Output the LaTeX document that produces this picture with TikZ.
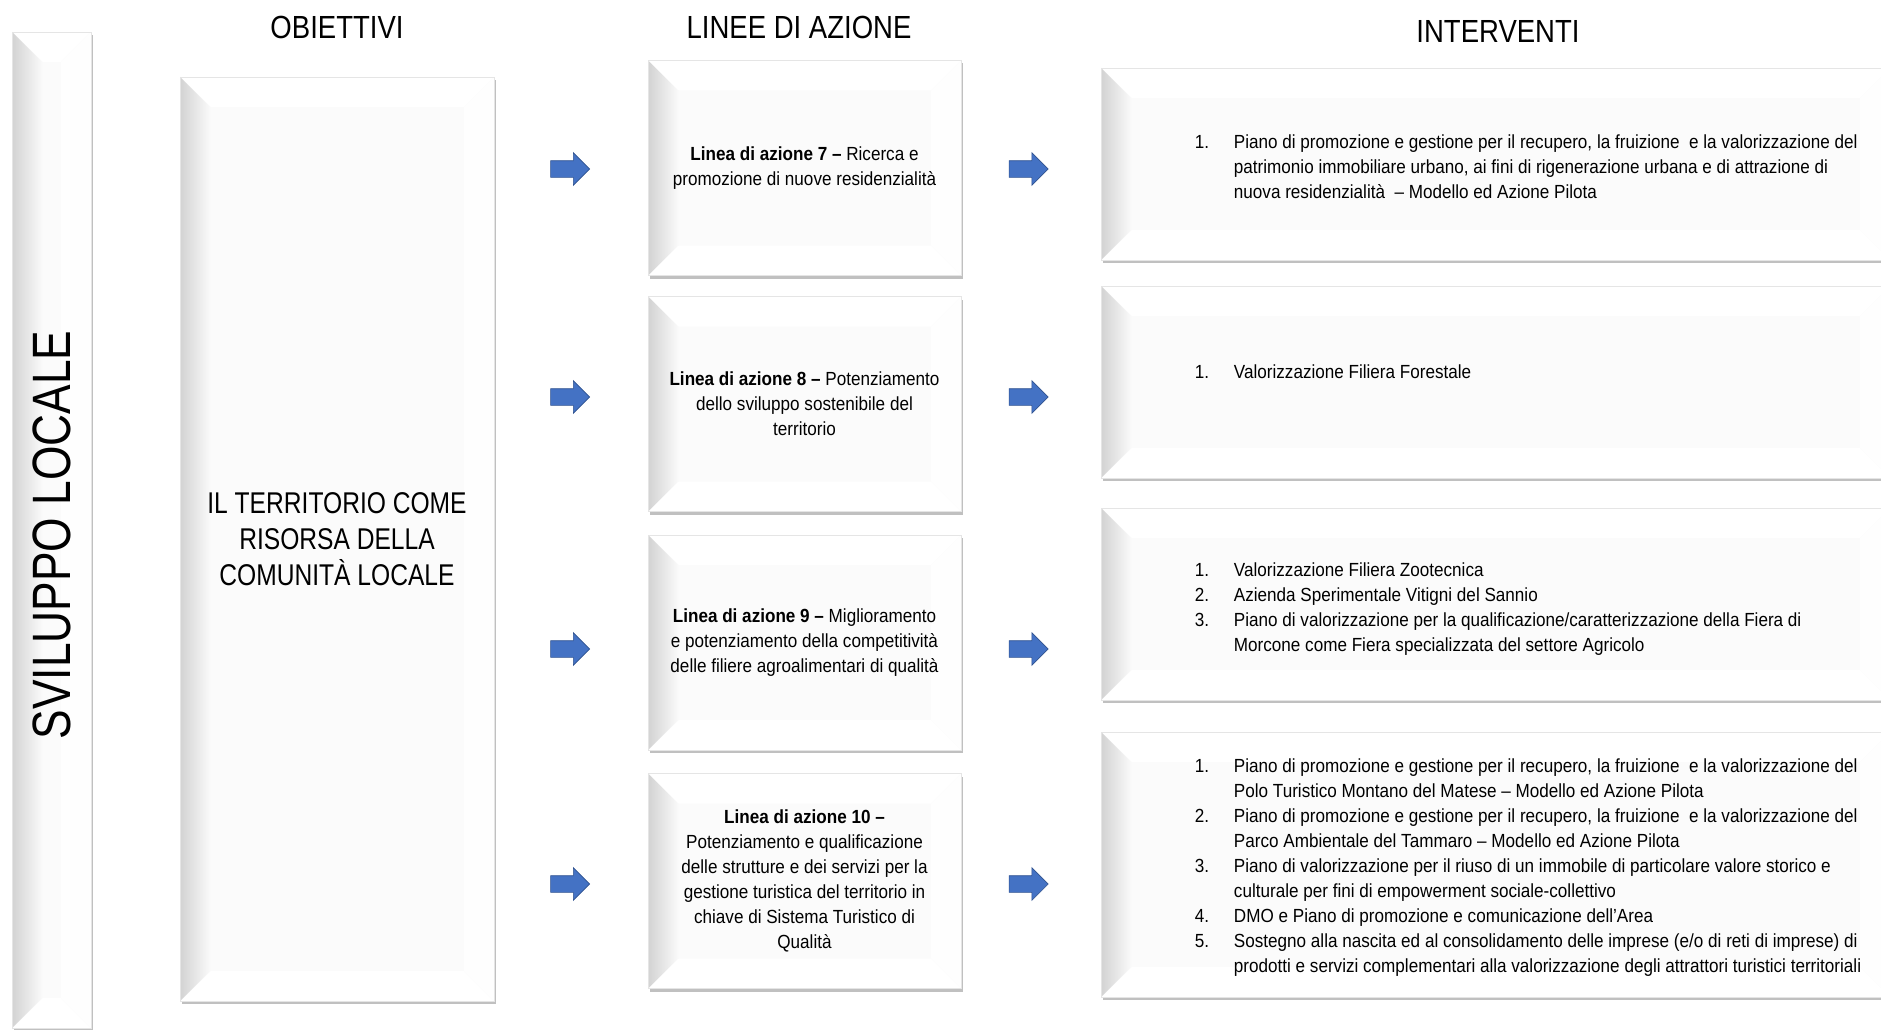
\documentclass[tikz,border=0pt]{standalone}
\usepackage{fontspec}
\setmainfont{Liberation Sans}[FakeStretch=0.9]
\newfontfamily\stretto{Liberation Sans}[FakeStretch=0.82]
\newfontfamily\titoli{Liberation Sans}[FakeStretch=0.86]
\usetikzlibrary{shapes.arrows,shadows,calc,positioning}

\definecolor{blufreccia}{HTML}{4472C4}
\definecolor{bordoblu}{HTML}{2F528F}
\def\smusso{30pt}

\begin{document}
\begin{tikzpicture}[x=1pt,y=-1pt]
        \tikzstyle{rilievo}=[fill=gray!3,draw=gray!20,line width=0.5pt,inner sep=0pt,
            drop shadow={shadow xshift=1.5pt,shadow yshift=-3pt,opacity=0.45,fill=black!55},
            path picture={
                \coordinate (pp-nw) at (path picture bounding box.north west);
                \coordinate (pp-ne) at (path picture bounding box.north east);
                \coordinate (pp-sw) at (path picture bounding box.south west);
                \coordinate (pp-se) at (path picture bounding box.south east);
                \fill[white] (pp-nw) -- (pp-ne) -- ([xshift=-\smusso,yshift=-\smusso]pp-ne) -- ([xshift=\smusso,yshift=-\smusso]pp-nw) -- cycle;
                \fill[white] (pp-sw) -- (pp-se) -- ([xshift=-\smusso,yshift=\smusso]pp-se) -- ([xshift=\smusso,yshift=\smusso]pp-sw) -- cycle;
                \fill[gray!1] (pp-ne) -- (pp-se) -- ([xshift=-\smusso,yshift=\smusso]pp-se) -- ([xshift=-\smusso,yshift=-\smusso]pp-ne) -- cycle;
                \fill[left color=gray!35,right color=gray!4] (pp-nw) -- (pp-sw) -- ([xshift=\smusso,yshift=\smusso]pp-sw) -- ([xshift=\smusso,yshift=-\smusso]pp-nw) -- cycle;
            }]
        \tikzstyle{titolo}=[inner sep=0pt,font=\titoli\fontsize{32pt}{36pt}\selectfont]
        \tikzstyle{linea}=[rilievo,minimum width=313pt,minimum height=215pt,align=center,
            font=\fontsize{19pt}{25pt}\selectfont]
        \tikzstyle{intervento}=[rilievo,minimum width=789pt]
        \tikzstyle{lista}=[anchor=west,inner sep=0pt,font=\fontsize{19pt}{25pt}\selectfont]
        \tikzstyle{freccia}=[single arrow,fill=blufreccia,draw=bordoblu,line width=0.6pt,
            inner xsep=0pt,inner ysep=8pt,minimum height=39pt,single arrow head extend=8pt]

        \useasboundingbox (0,0) rectangle (1881,1030);

        % Draw the side banner
        \node[rilievo,minimum width=79pt,minimum height=996pt] (S) at (51.5,530) {};
        \node[rotate=90,inner sep=0pt,font=\stretto\fontsize{54pt}{60pt}\selectfont] (S-txt) at ($(S.center)+(0,5)$) {SVILUPPO LOCALE};

        % Draw the objective box
        \node[rilievo,minimum width=314pt,minimum height=924pt,align=center,
            font=\stretto\fontsize{30pt}{36pt}\selectfont] (O) at (337,539)
            {IL TERRITORIO COME\\RISORSA DELLA\\COMUNITÀ LOCALE};

        % Draw the lines of action
        \foreach \name/\y/\testo in {
            7/168/{\textbf{Linea di azione 7 –} Ricerca e\\promozione di nuove residenzialità},
            8/404/{\textbf{Linea di azione 8 –} Potenziamento\\dello sviluppo sostenibile del\\territorio},
            9/642.5/{\textbf{Linea di azione 9 –} Miglioramento\\e potenziamento della competitività\\delle filiere agroalimentari di qualità},
            10/881/{\textbf{Linea di azione 10 –}\\Potenziamento e qualificazione\\delle strutture e dei servizi per la\\gestione turistica del territorio in\\chiave di Sistema Turistico di\\Qualità}}
            \node[linea] (L-\name) at (804.5,\y) {\testo};

        % Draw the intervention boxes
        \foreach \name/\y/\h in {1/164/192,2/382/192,3/604/192,4/864.5/265}
            \node[intervento,minimum height=\h pt] (I-\name) at (1495.5,\y) {};

        % Lists of interventions
        \node[lista] (E-1) at ($(I-1.west)+(94,4)$) {\begin{tabular}{@{}p{39pt}@{}l@{}}
            1. & Piano di promozione e gestione per il recupero, la fruizione\ \ e la valorizzazione del\\
               & patrimonio immobiliare urbano, ai fini di rigenerazione urbana e di attrazione di\\
               & nuova residenzialità\ \ – Modello ed Azione Pilota
            \end{tabular}};
        \node[lista] (E-2) at ($(I-2.west)+(94,-9)$) {\begin{tabular}{@{}p{39pt}@{}l@{}}
            1. & Valorizzazione Filiera Forestale
            \end{tabular}};
        \node[lista] (E-3) at ($(I-3.west)+(94,5)$) {\begin{tabular}{@{}p{39pt}@{}l@{}}
            1. & Valorizzazione Filiera Zootecnica\\
            2. & Azienda Sperimentale Vitigni del Sannio\\
            3. & Piano di valorizzazione per la qualificazione/caratterizzazione della Fiera di\\
               & Morcone come Fiera specializzata del settore Agricolo
            \end{tabular}};
        \node[lista] (E-4) at ($(I-4.west)+(94,3)$) {\begin{tabular}{@{}p{39pt}@{}l@{}}
            1. & Piano di promozione e gestione per il recupero, la fruizione\ \ e la valorizzazione del\\
               & Polo Turistico Montano del Matese – Modello ed Azione Pilota\\
            2. & Piano di promozione e gestione per il recupero, la fruizione\ \ e la valorizzazione del\\
               & Parco Ambientale del Tammaro – Modello ed Azione Pilota\\
            3. & Piano di valorizzazione per il riuso di un immobile di particolare valore storico e\\
               & culturale per fini di empowerment sociale-collettivo\\
            4. & DMO e Piano di promozione e comunicazione dell'Area\\
            5. & Sostegno alla nascita ed al consolidamento delle imprese (e/o di reti di imprese) di\\
               & prodotti e servizi complementari alla valorizzazione degli attrattori turistici territoriali
            \end{tabular}};

        % Arrows between the columns
        \foreach \y in {169,397,649,884} {
            \node[freccia] (A-\y) at (566,\y) {};
            \node[freccia] (B-\y) at (1024.5,\y) {};
        }

        % Column titles
        \node[titolo] (T-O) at (337,27) {OBIETTIVI};
        \node[titolo] (T-L) at (799,27) {LINEE DI AZIONE};
        \node[titolo] (T-I) at (1498,31) {INTERVENTI};
\end{tikzpicture}
\end{document}
